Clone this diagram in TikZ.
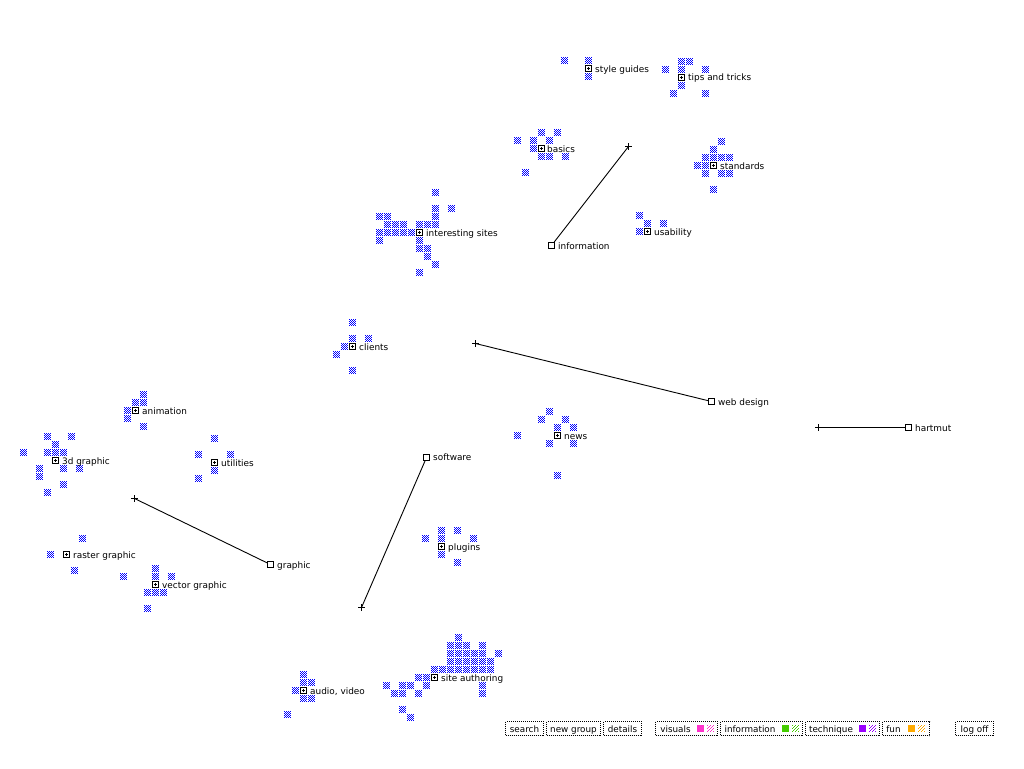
\documentclass[tikz,border=0pt]{standalone}
\usepackage{fontspec}
\setmainfont{DejaVu Sans}
\definecolor{cellblue}{RGB}{0,0,255}
\definecolor{cvis}{RGB}{255,51,204}
\definecolor{cinf}{RGB}{68,204,0}
\definecolor{ctec}{RGB}{153,0,255}
\definecolor{cfun}{RGB}{255,170,0}
\tikzset{
 x=1pt,y=-1pt,
 pixel/.style={line width=1pt},
 lab/.style={anchor=base west,inner sep=0pt,font=\fontsize{8.9}{10}\selectfont,text=black},
 openbox/.style={draw=black,line width=1pt,rectangle,minimum size=6pt,inner sep=0pt,fill=white},
 plusbox/.style={openbox,path picture={
   \draw[pixel] ([xshift=-1.5pt]path picture bounding box.center) -- ([xshift=1.5pt]path picture bounding box.center);
   \draw[pixel] ([yshift=-1.5pt]path picture bounding box.center) -- ([yshift=1.5pt]path picture bounding box.center);}},
 endmark/.style={rectangle,minimum size=7pt,inner sep=0pt,path picture={
   \draw[pixel] (path picture bounding box.west) -- (path picture bounding box.east);
   \draw[pixel] (path picture bounding box.north) -- (path picture bounding box.south);}},
 conn/.style={line width=0.9pt,black},
 btn/.style={draw=black,line width=1pt,dash pattern=on 1pt off 1pt},
 btntext/.style={anchor=base,inner sep=0pt,font=\fontsize{8.8}{10}\selectfont},
 cell/.pic={\foreach \i in {-3,...,3}\foreach \j in {-3,...,3}{
   \pgfmathtruncatemacro\m{mod(\i+\j+12,2)}
   \ifnum\m=0 \fill[cellblue] (\i-.5,\j-.5) rectangle ++(1,1);\fi}},
 swatch/.pic={\fill (0,0) rectangle (7,7);},
 hatch/.pic={\foreach \i in {0,...,6}\foreach \j in {0,...,6}{
   \pgfmathtruncatemacro\m{mod(\i+\j,3)}
   \ifnum\m=0 \fill (\i,\j) rectangle ++(1,1);\fi}}
}
\newcommand\cells[3]{\foreach \k/\m in {#3}{\pic at ({#1+.5+8*\k},{#2+.5+8*\m}) {cell};}}
\newcommand\group[4]{\cells{#2}{#3}{#4}\node[plusbox] (#1) at (#2+.5,#3+.5) {};}
\begin{document}
\begin{tikzpicture}
\useasboundingbox (0,0) rectangle (1024,768);
% groups: name, box pos, cells as offsets
\group{styleguides}{588}{68}{-3/-1,0/-1,0/1}
\node[lab] (lstyleguides) at (595,72) {style guides};
\group{tips}{681}{77}{0/-2,1/-2,-2/-1,0/-1,3/-1,0/1,-1/2,3/2}
\node[lab] (ltips) at (688,81) {tips and tricks};
\group{basics}{541}{148}{0/-2,2/-2,-3/-1,-1/-1,1/-1,-1/0,0/1,1/1,3/1,-2/3}
\node[lab] (lbasics) at (547,152) {basics};
\group{sites}{419}{232}{2/-5,2/-3,4/-3,-5/-2,-4/-2,2/-2,-4/-1,-3/-1,-2/-1,0/-1,1/-1,2/-1,-5/0,-4/0,-3/0,-2/0,-1/0,-5/1,0/1,0/2,1/2,1/3,2/4,0/5}
\node[lab] (lsites) at (426,236) {interesting sites};
\group{standards}{713}{165}{1/-3,0/-2,-1/-1,0/-1,1/-1,2/-1,-2/0,-1/0,-1/1,1/1,2/1,0/3}
\node[lab] (lstandards) at (720,169) {standards};
\group{usability}{647}{231}{-1/-2,0/-1,2/-1,-1/0}
\node[lab] (lusability) at (654,235) {usability};
\group{clients}{352}{346}{0/-3,0/-1,2/-1,-1/0,-2/1,0/3}
\node[lab] (lclients) at (359,350) {clients};
\group{news}{557}{435}{-1/-3,-2/-2,1/-2,0/-1,2/-1,-5/0,-1/1,2/1,0/5}
\node[lab] (lnews) at (564,439) {news};
\group{plugins}{441}{546}{0/-2,2/-2,-2/-1,0/-1,4/-1,0/1,2/2}
\node[lab] (lplugins) at (448,550) {plugins};
\group{animation}{135}{410}{1/-2,0/-1,1/-1,-1/0,-1/1,1/2}
\node[lab] (lanimation) at (142,414) {animation};
\group{threed}{55}{460}{-1/-3,2/-3,0/-2,-4/-1,-1/-1,0/-1,1/-1,-2/1,1/1,3/1,-2/2,1/3,-1/4}
\node[lab] (lthreed) at (62,464) {3d graphic};
\group{utilities}{214}{462}{0/-3,-2/-1,2/-1,0/1,-2/2}
\node[lab] (lutilities) at (221,466) {utilities};
\group{raster}{66}{554}{2/-2,-2/0,1/2}
\node[lab] (lraster) at (73,558) {raster graphic};
\group{vector}{155}{584}{0/-2,0/-1,2/-1,-4/-1,-1/1,0/1,1/1,-1/3}
\node[lab] (lvector) at (162,588) {vector graphic};
\group{audio}{303}{690}{0/-2,0/-1,1/-1,-1/0,0/1,1/1,-2/3}
\node[lab] (laudio) at (310,694) {audio, video};
\group{authoring}{434}{677}{3/-5,2/-4,3/-4,4/-4,6/-4,2/-3,3/-3,4/-3,5/-3,6/-3,8/-3,2/-2,3/-2,4/-2,5/-2,6/-2,7/-2,0/-1,1/-1,2/-1,3/-1,4/-1,5/-1,6/-1,7/-1,-2/0,-1/0,-6/1,-4/1,-3/1,-1/1,6/1,-5/2,-4/2,-2/2,6/2,-4/4,-3/5}
\node[lab] (lauthoring) at (441,681) {site authoring};
% connected nodes
\node[openbox] (information) at (551.5,245.5) {};
\node[endmark] (pinformation) at (628.5,146.5) {};
\node[lab] (linformation) at (558,249) {information};
\draw[conn] (information) -- (pinformation.center);
\node[openbox] (webdesign) at (711.5,401.5) {};
\node[endmark] (pwebdesign) at (475.5,343.5) {};
\node[lab] (lwebdesign) at (718,405) {web design};
\draw[conn] (webdesign) -- (pwebdesign.center);
\node[openbox] (hartmut) at (908.5,427.5) {};
\node[endmark] (phartmut) at (818.5,427.5) {};
\node[lab] (lhartmut) at (915,431) {hartmut};
\draw[conn] (hartmut) -- (phartmut.center);
\node[openbox] (software) at (426.5,457.5) {};
\node[endmark] (psoftware) at (361.5,607.5) {};
\node[lab] (lsoftware) at (433,460) {software};
\draw[conn] (software) -- (psoftware.center);
\node[openbox] (graphic) at (270.5,564.5) {};
\node[endmark] (pgraphic) at (134.5,498.5) {};
\node[lab] (lgraphic) at (277,568) {graphic};
\draw[conn] (graphic) -- (pgraphic.center);
% buttons
\draw[btn] (505.5,721.5) rectangle (543.5,735.5);
\node[btntext] (bsearch) at (524.5,732) {search};
\draw[btn] (546.5,721.5) rectangle (600.5,735.5);
\node[btntext] (bnewgroup) at (573.5,732) {new group};
\draw[btn] (603.5,721.5) rectangle (641.5,735.5);
\node[btntext] (bdetails) at (622.5,732) {details};
\draw[btn] (655.5,721.5) rectangle (717.5,735.5);
\node[btntext] (bvisuals) at (675.5,732) {visuals};
\pic[cvis] at (697,725) {swatch};\pic[cvis] at (707,725) {hatch};
\draw[btn] (720.5,721.5) rectangle (802.5,735.5);
\node[btntext] (binfo) at (750,732) {information};
\pic[cinf] at (782,725) {swatch};\pic[cinf] at (792,725) {hatch};
\draw[btn] (805.5,721.5) rectangle (879.5,735.5);
\node[btntext] (btech) at (831,732) {technique};
\pic[ctec] at (859,725) {swatch};\pic[ctec] at (869,725) {hatch};
\draw[btn] (882.5,721.5) rectangle (929.5,735.5);
\node[btntext] (bfun) at (893.5,732) {fun};
\pic[cfun] at (908,725) {swatch};\pic[cfun] at (918,725) {hatch};
\draw[btn] (955.5,721.5) rectangle (993.5,735.5);
\node[btntext] (blogoff) at (974.5,732) {log off};
\end{tikzpicture}
\end{document}
